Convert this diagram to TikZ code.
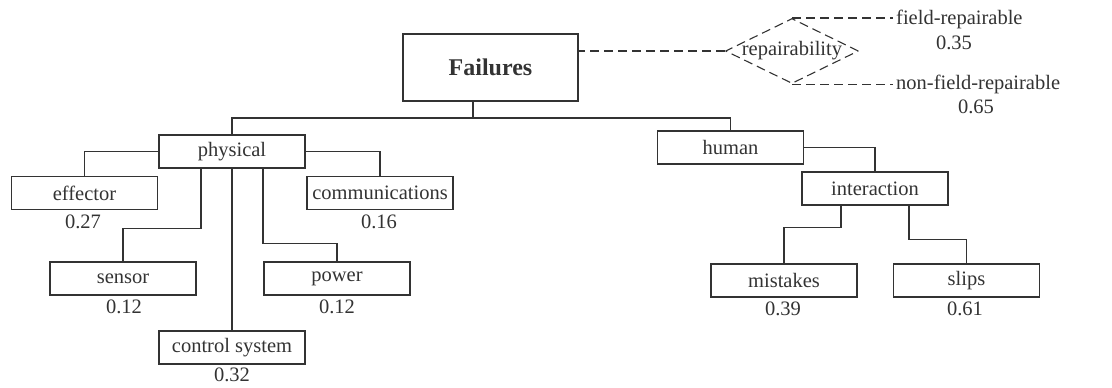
\documentclass[tikz,border=0pt]{standalone}
\usepackage{fontspec}
\setmainfont{Liberation Serif}
\usetikzlibrary{shapes.geometric}
\definecolor{ink}{HTML}{333333}
\begin{document}
\begin{tikzpicture}[x=1pt,y=-1pt,
  font=\fontsize{20.5}{24}\selectfont,
  every node/.style={text=ink},
  cell/.style={draw=ink,line width=1.3pt,minimum width=146pt,minimum height=33pt,inner sep=0pt},
  prob/.style={inner sep=0pt},
  wire/.style={draw=ink,line width=1.3pt},
  rdash/.style={draw=ink,line width=1.1pt,dash pattern=on 9pt off 5pt}]
\useasboundingbox (0,0) rectangle (1112,388);
\node[cell,minimum width=175pt,minimum height=67pt,font=\fontsize{24}{28}\selectfont\bfseries] (failures) at (490.5,67.5) {Failures};
\node[cell] (physical) at (232,151.5) {physical};
\node[cell] (human) at (730.5,147.5) {human};
\node[cell] (effector) at (84.5,193) {effector};
\node[cell] (comms) at (380,193) {communications};
\node[cell] (sensor) at (123,278.5) {sensor};
\node[cell] (power) at (337,278.5) {power};
\node[cell] (control) at (232,347.5) {control system};
\node[cell] (interaction) at (875,188.5) {interaction};
\node[cell] (mistakes) at (784,280.5) {mistakes};
\node[cell] (slips) at (966.5,280.5) {slips};
\node[prob] at (83,222) {0.27};
\node[prob] at (379,222) {0.16};
\node[prob] at (124,307) {0.12};
\node[prob] at (337,307) {0.12};
\node[prob] at (232,375) {0.32};
\node[prob] at (783,309) {0.39};
\node[prob] at (965,309) {0.61};
\node[diamond,rdash,minimum width=133pt,minimum height=65pt,inner sep=0pt,
  label={center:repairability}] (repair) at (792,51) {};
\node[prob,anchor=west,inner xsep=3pt] (field) at (893,19) {field-repairable};
\node[prob,anchor=west,inner xsep=3pt] (nonfield) at (893,84) {non-field-repairable};
\node[prob] at (954,43) {0.35};
\node[prob] at (976,107) {0.65};
\coordinate (root) at (473,118);
\draw[wire] ([xshift=-17.5pt]failures.south) -- (root);
\draw[wire] (root) -| (physical.north);
\draw[wire] (root) -| (human.north);
\draw[wire] (physical.west) -| (effector.north);
\draw[wire] (physical.east) -| (comms.north);
\draw[wire] ([xshift=-31pt]physical.south) -- ++(0,60) -| (sensor.north);
\draw[wire] ([xshift=31pt]physical.south) -- ++(0,75) -| (power.north);
\draw[wire] (physical.south) -- (control.north);
\draw[wire] (human.east) -| (interaction.north);
\draw[wire] ([xshift=-34pt]interaction.south) -- ++(0,22) -| (mistakes.north);
\draw[wire] ([xshift=34pt]interaction.south) -- ++(0,34) -| (slips.north);
\draw[rdash] (repair.west) -- (repair.west -| failures.east);
\draw[rdash] (repair.north) -- (repair.north -| field.west);
\draw[rdash] (repair.south) -- (repair.south -| nonfield.west);
\end{tikzpicture}
\end{document}
